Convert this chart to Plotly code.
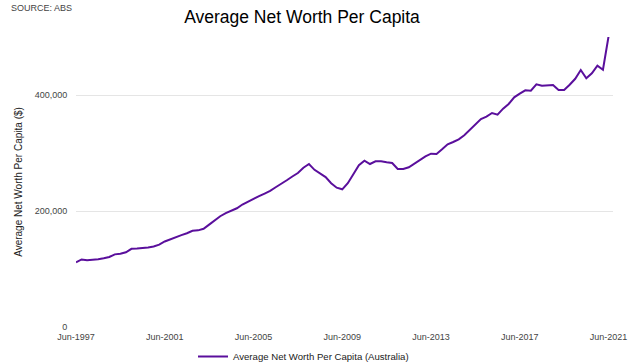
import plotly.graph_objects as go

# Quarterly periods, Jun-1997 .. Jun-2021
years = list(range(1997, 2022))
months = ["Mar", "Jun", "Sep", "Dec"]
quarters = [f"{m}-{y}" for y in years for m in months]
quarters = quarters[quarters.index("Jun-1997"):quarters.index("Jun-2021") + 1]

# Average net worth per capita ($) (thousands)
net_worth_k = [
    111.5, 116.5, 115.0, 115.4, 116.8, 118.5, 120.7, 125.2, 126.3, 128.9,
    134.8, 135.3, 135.7, 137.2, 138.8, 142.0, 147.5, 151.5, 155.0, 158.5,
    161.6, 165.8, 166.6, 169.3, 176.5, 184.5, 191.0, 196.3, 200.3, 204.7,
    211.2, 216.3, 220.8, 225.5, 230.0, 234.6, 241.0, 246.5, 253.0, 259.5,
    265.5, 274.5, 281.0, 271.0, 265.0, 258.5, 248.0, 240.2, 237.4, 248.0,
    263.3, 279.0, 286.7, 281.0, 285.6, 285.6, 284.0, 282.8, 272.4, 272.4,
    275.3, 281.6, 286.7, 294.3, 298.9, 298.3, 306.3, 315.0, 319.0, 323.6,
    330.5, 340.2, 350.0, 358.6, 362.6, 369.0, 366.0, 376.4, 384.5, 396.0,
    402.3, 408.0, 407.4, 418.4, 416.0, 417.2, 417.2, 408.6, 408.6, 417.8,
    428.0, 443.0, 428.7, 437.4, 450.5, 443.6, 500.5,
]
net_worth = [v * 1000 for v in net_worth_k]

x_tick_labels = ["Jun-1997", "Jun-2001", "Jun-2005", "Jun-2009",
                 "Jun-2013", "Jun-2017", "Jun-2021"]
y_tick_values = [0, 200000, 400000]
y_tick_labels = ["0", "200,000", "400,000"]

FONT = "Arial, Liberation Sans, sans-serif"

fig = go.Figure()
fig.add_trace(go.Scatter(
    x=quarters, y=net_worth, mode="lines",
    name="Average Net Worth Per Capita (Australia)",
    line=dict(color="#5a0f9c", width=2),
))

fig.update_layout(
    width=640, height=363,
    margin=dict(l=76, r=27, t=37, b=36, autoexpand=False),
    paper_bgcolor="white", plot_bgcolor="white",
    font=dict(family=FONT, color="#444444"),
    title=dict(text="Average Net Worth Per Capita", x=302 / 640, xanchor="center",
               xref="container", y=1 - 17 / 363, yref="container", yanchor="middle",
               font=dict(size=17.5, color="#000000", family=FONT)),
    showlegend=True,
    legend=dict(orientation="h", xref="container", yref="container",
                x=303.5 / 640, xanchor="center", y=21 / 363, yanchor="top",
                font=dict(size=9.6, color="#222222"), itemwidth=30,
                bgcolor="rgba(0,0,0,0)"),
    annotations=[dict(text="SOURCE: ABS", xref="paper", yref="paper",
                      x=-67 / 537, y=1 + 29 / 290, xanchor="left", yanchor="middle",
                      showarrow=False, font=dict(size=9, color="#444444", family=FONT))],
)

fig.update_xaxes(
    type="category",
    range=[0, 96 * 537 / 532.5],
    tickmode="array", tickvals=x_tick_labels, ticktext=x_tick_labels,
    showgrid=False, zeroline=False, showline=False,
    tickfont=dict(size=9, color="#444444"),
    ticks="outside", ticklen=1, tickcolor="rgba(0,0,0,0)",
    automargin=False, fixedrange=True,
)
fig.update_yaxes(
    range=[0, 500000],
    tickmode="array", tickvals=y_tick_values, ticktext=y_tick_labels,
    showgrid=True, gridcolor="#e5e5e5", gridwidth=1,
    zeroline=False, showline=False,
    tickfont=dict(size=9, color="#444444"),
    ticks="outside", ticklen=6, tickcolor="rgba(0,0,0,0)",
    title=dict(text="Average Net Worth Per Capita ($)", standoff=10,
               font=dict(size=10, color="#222222")),
    automargin=False,
)

fig.write_html(
    "out.html",
    config={"displayModeBar": False},
    post_script="document.body.style.margin='0';document.body.style.padding='0';",
)
